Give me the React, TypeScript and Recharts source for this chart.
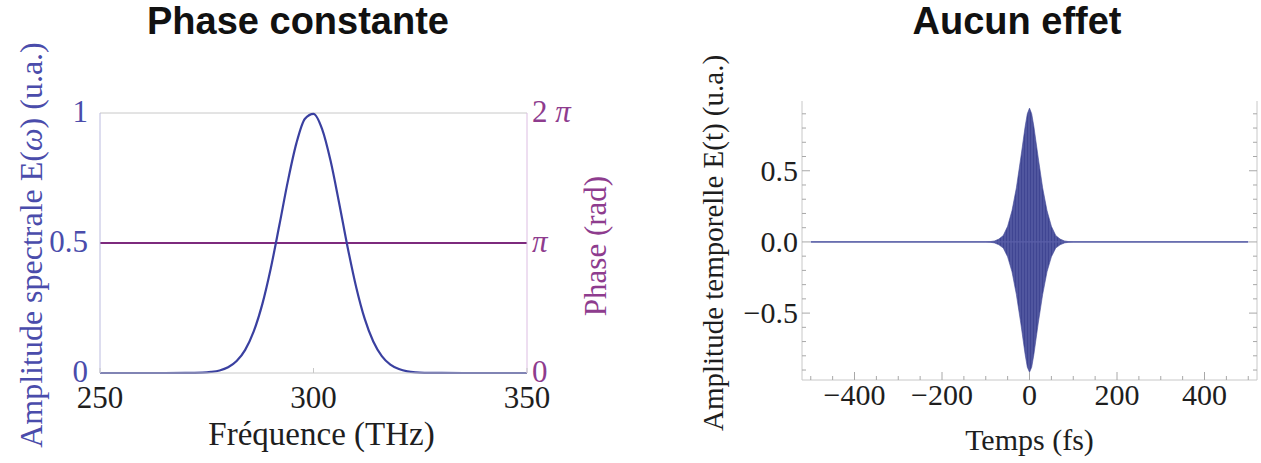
import React from "react";
import { ComposedChart, Line, Area, XAxis, YAxis, ReferenceLine, Label } from "recharts";

const SERIF = '"Liberation Serif", "Times New Roman", serif';
const SANS = '"Liberation Sans", Arial, sans-serif';
const BLUE = "#3a40a0";
const BLUE_AXIS = "#4a4cab";
const PURPLE = "#7d2a7d";
const PURPLE_AXIS = "#8e3c8e";
const FRAME = "#c8c8c8";
const INK = "#1e1e1e";

// ---- left panel: spectrum + phase ----------------------------------------
const FREQ = [250, 260, 270, 274, 276, 278, 280, 282, 284, 286, 288, 290, 292, 294, 296, 298, 300, 302, 304, 306, 308, 310, 312, 314, 316, 318, 320, 322, 324, 326, 330, 340, 350];
const AMP = [0, 0, 0.0003, 0.0014, 0.004, 0.0096, 0.022, 0.046, 0.089, 0.16, 0.264, 0.403, 0.568, 0.738, 0.884, 0.978, 0.997, 0.939, 0.816, 0.654, 0.483, 0.33, 0.208, 0.121, 0.065, 0.032, 0.015, 0.006, 0.0022, 0.0008, 0.0001, 0, 0];
const PHASE_RAD = Math.PI; // flat phase, sits at π
const FREQ_TICKS = [250, 300, 350];
const AMP_TICKS = [0, 0.5, 1];
const PHASE_TICKS = [0, Math.PI, 2 * Math.PI];
const PHASE_LABELS = ["0", "π", "2 π"];

// ---- right panel: temporal field envelope ---------------------------------
const TIME = [-500, -100, -90, -80, -70, -60, -50, -40, -30, -20, -10, -5, 0, 5, 10, 20, 30, 40, 50, 60, 70, 80, 90, 100, 500];
const ENV_HI = [0, 0, 0.002, 0.007, 0.02, 0.045, 0.11, 0.22, 0.38, 0.59, 0.81, 0.9, 0.94, 0.9, 0.81, 0.59, 0.38, 0.22, 0.11, 0.045, 0.02, 0.007, 0.002, 0, 0];
const ENV_LO = [0, 0, -0.002, -0.007, -0.02, -0.043, -0.105, -0.21, -0.37, -0.57, -0.79, -0.88, -0.915, -0.88, -0.79, -0.57, -0.37, -0.21, -0.105, -0.043, -0.02, -0.007, -0.002, 0, 0];
const TIME_TICKS = [-500, -450, -400, -350, -300, -250, -200, -150, -100, -50, 0, 50, 100, 150, 200, 250, 300, 350, 400, 450, 500];
const FIELD_TICKS = [-0.9, -0.8, -0.7, -0.6, -0.5, -0.4, -0.3, -0.2, -0.1, 0, 0.1, 0.2, 0.3, 0.4, 0.5, 0.6, 0.7, 0.8, 0.9];

const specData = FREQ.map((f, i) => ({ f, amp: AMP[i], phase: PHASE_RAD }));
const fieldData = TIME.map((t, i) => ({ t, env: [ENV_LO[i], ENV_HI[i]], zero: 0 }));

const isMajorT = (v: number) => v % 200 === 0;
const isMajorE = (v: number) => Math.abs(Math.round(v * 10)) % 5 === 0;
const fmtField = (v: number) => (v === 0 ? "0.0" : v < 0 ? `\u2212${Math.abs(v).toFixed(1)}` : v.toFixed(1));
const fmtTime = (v: number) => (v < 0 ? `\u2212${Math.abs(v)}` : String(v));

function FreqTick({ x, y, payload }: any) {
  return (
    <g>
      <line x1={x} y1={y} x2={x} y2={y - 5} stroke={FRAME} />
      <text x={x} y={y + 35} textAnchor="middle" fontFamily={SERIF} fontSize={31} fill={INK}>
        {payload.value}
      </text>
    </g>
  );
}

function AmpTick({ x, y, payload }: any) {
  return (
    <text x={x - 12} y={y + 9} textAnchor="end" fontFamily={SERIF} fontSize={31} fill={BLUE_AXIS}>
      {String(payload.value)}
    </text>
  );
}

function PhaseTick({ x, y, payload }: any) {
  const i = PHASE_TICKS.findIndex((p) => Math.abs(p - payload.value) < 1e-6);
  const s = PHASE_LABELS[i] ?? "";
  const hasPi = s.includes("π");
  return (
    <text x={x + 5} y={y + 9} textAnchor="start" fontFamily={SERIF} fontSize={31} fill={PURPLE_AXIS}>
      {hasPi ? (
        <>
          {s.replace("π", "")}
          <tspan fontStyle="italic">π</tspan>
        </>
      ) : (
        s
      )}
    </text>
  );
}

function TimeTick({ x, y, payload }: any) {
  const major = isMajorT(payload.value);
  return (
    <g>
      <line x1={x} y1={y} x2={x} y2={y - (major ? 8 : 4)} stroke="#a8a8a8" />
      {major && Math.abs(payload.value) < 500 && (
        <text x={x} y={y + 25} textAnchor="middle" fontFamily={SERIF} fontSize={30} fill={INK}>
          {fmtTime(payload.value)}
        </text>
      )}
    </g>
  );
}

function TimeTopTick({ x, y, payload }: any) {
  const major = isMajorT(payload.value);
  return <line x1={x} y1={y} x2={x} y2={y + (major ? 8 : 4)} stroke="#a8a8a8" />;
}

function FieldTick({ x, y, payload }: any) {
  const major = isMajorE(payload.value);
  return (
    <g>
      <line x1={x} y1={y} x2={x + (major ? 8 : 4)} y2={y} stroke="#a8a8a8" />
      {major && (
        <text x={x - 4} y={y + 10} textAnchor="end" fontFamily={SERIF} fontSize={30} fill={INK}>
          {fmtField(payload.value)}
        </text>
      )}
    </g>
  );
}

function FieldRightTick({ x, y, payload }: any) {
  const major = isMajorE(payload.value);
  return <line x1={x} y1={y} x2={x - (major ? 8 : 4)} y2={y} stroke="#a8a8a8" />;
}

function VLabel({ viewBox, bx, cy, text, color, size, children }: any) {
  const x = viewBox.x + bx;
  return (
    <text x={x} y={cy} transform={`rotate(-90, ${x}, ${cy})`} textAnchor="middle" fontFamily={SERIF} fontSize={size} fill={color}>
      {children ?? text}
    </text>
  );
}

function Title({ x, text }: { x: number; text: string }) {
  return (
    <div
      style={{
        position: "absolute",
        left: x - 200,
        top: 0,
        width: 400,
        textAlign: "center",
        fontFamily: SANS,
        fontWeight: 700,
        fontSize: 38,
        lineHeight: "42px",
        color: "#111",
      }}
    >
      {text}
    </div>
  );
}

export default function App() {
  return (
    <div style={{ position: "absolute", left: 0, top: 0, width: 1261, height: 463, background: "#fff", overflow: "hidden" }}>
      <Title x={298} text="Phase constante" />
      <Title x={1017} text="Aucun effet" />

      <div style={{ position: "absolute", left: 0, top: 0 }}>
        <ComposedChart width={640} height={463} data={specData} margin={{ top: 113, right: 0, bottom: 0, left: 0 }}>
          <XAxis
            dataKey="f"
            type="number"
            domain={[250, 350]}
            ticks={FREQ_TICKS}
            height={90}
            tickSize={0}
            tickMargin={0}
            tick={<FreqTick />}
            axisLine={{ stroke: FRAME }}
            interval={0}
          >
            <Label
              content={(p: any) => (
                <text x={p.viewBox.x + p.viewBox.width / 2 + 8} y={p.viewBox.y + 72} textAnchor="middle" fontFamily={SERIF} fontSize={33} fill={INK}>
                  Fréquence (THz)
                </text>
              )}
            />
          </XAxis>
          <YAxis
            yAxisId="amp"
            type="number"
            domain={[0, 1]}
            ticks={AMP_TICKS}
            width={100}
            tickSize={0}
            tickMargin={0}
            tick={<AmpTick />}
            axisLine={{ stroke: "#bcbcdf" }}
            interval={0}
          >
            <Label
              content={(p: any) => (
                <VLabel viewBox={p.viewBox} bx={42} cy={245} size={32} color={BLUE_AXIS}>
                  Amplitude spectrale E(<tspan fontStyle="italic">ω</tspan>) (u.a.)
                </VLabel>
              )}
            />
          </YAxis>
          <YAxis
            yAxisId="phase"
            orientation="right"
            type="number"
            domain={[0, 2 * Math.PI]}
            ticks={PHASE_TICKS}
            width={113}
            tickSize={0}
            tickMargin={0}
            tick={<PhaseTick />}
            axisLine={{ stroke: "#dcbde2" }}
            interval={0}
          >
            <Label
              content={(p: any) => <VLabel viewBox={p.viewBox} bx={79} cy={246} size={31} color={PURPLE_AXIS} text="Phase (rad)" />}
            />
          </YAxis>
          <ReferenceLine yAxisId="amp" y={1} stroke={FRAME} />
          <Line yAxisId="phase" dataKey="phase" type="linear" stroke={PURPLE} strokeWidth={2} dot={false} isAnimationActive={false} />
          <Line yAxisId="amp" dataKey="amp" type="monotone" stroke={BLUE} strokeWidth={2.2} dot={false} isAnimationActive={false} />
        </ComposedChart>
      </div>

      <div style={{ position: "absolute", left: 640, top: 0 }}>
        <ComposedChart width={621} height={463} data={fieldData} margin={{ top: 101, right: 0, bottom: 0, left: 0 }}>
          <defs>
            <pattern id="carrier" width="3" height="12" patternUnits="userSpaceOnUse">
              <rect width="3" height="12" fill="#50569f" />
              <rect width="1" height="12" fill="#3f4592" />
            </pattern>
          </defs>
          <XAxis
            dataKey="t"
            type="number"
            domain={[-520, 520]}
            ticks={TIME_TICKS}
            height={83}
            tickSize={0}
            tickMargin={0}
            tick={<TimeTick />}
            axisLine={{ stroke: FRAME }}
            interval={0}
          >
            <Label
              content={(p: any) => (
                <text x={p.viewBox.x + p.viewBox.width / 2} y={p.viewBox.y + 70} textAnchor="middle" fontFamily={SERIF} fontSize={30} fill={INK}>
                  Temps (fs)
                </text>
              )}
            />
          </XAxis>
          <XAxis
            xAxisId="top"
            orientation="top"
            dataKey="t"
            type="number"
            domain={[-520, 520]}
            ticks={TIME_TICKS}
            height={0}
            tickSize={0}
            tickMargin={0}
            tick={<TimeTopTick />}
            axisLine={{ stroke: FRAME }}
            interval={0}
          />
          <YAxis
            type="number"
            domain={[-0.97, 0.99]}
            ticks={FIELD_TICKS}
            width={162}
            tickSize={0}
            tickMargin={0}
            tick={<FieldTick />}
            axisLine={{ stroke: FRAME }}
            interval={0}
          >
            <Label
              content={(p: any) => <VLabel viewBox={p.viewBox} bx={83} cy={243} size={29} color={INK} text="Amplitude temporelle E(t) (u.a.)" />}
            />
          </YAxis>
          <YAxis
            yAxisId="r"
            orientation="right"
            type="number"
            domain={[-0.97, 0.99]}
            ticks={FIELD_TICKS}
            width={4}
            tickSize={0}
            tickMargin={0}
            tick={<FieldRightTick />}
            axisLine={{ stroke: FRAME }}
            interval={0}
          />
          <Area dataKey="env" type="linear" stroke="#454b98" strokeWidth={0.6} fill="url(#carrier)" fillOpacity={1} isAnimationActive={false} />
          <Line xAxisId="top" yAxisId="r" dataKey="zero" type="linear" stroke="#5a5fa8" strokeWidth={1.3} dot={false} isAnimationActive={false} />
        </ComposedChart>
      </div>
    </div>
  );
}
